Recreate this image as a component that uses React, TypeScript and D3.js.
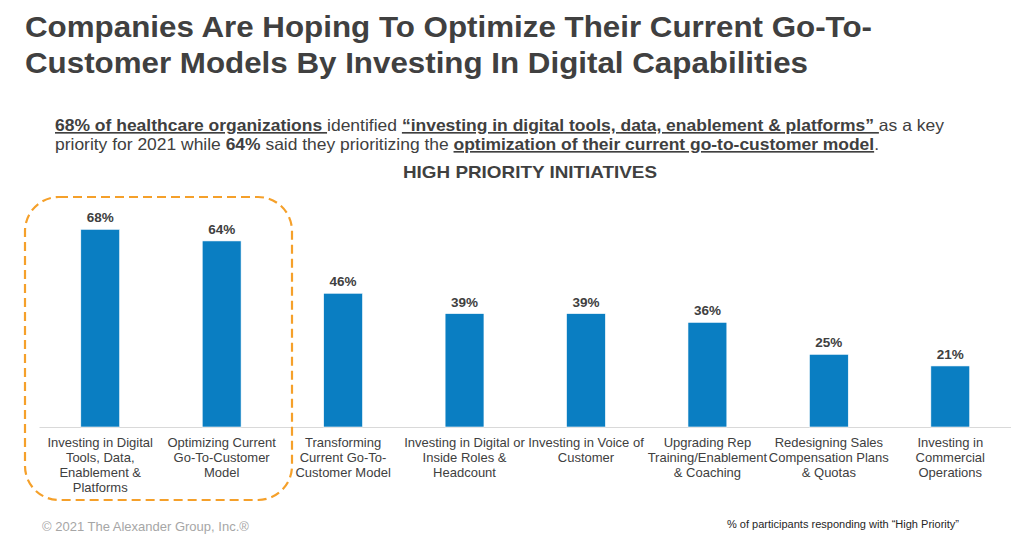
import React from "react";
import * as d3 from "d3";

const categories = [
  "Investing in Digital\nTools, Data,\nEnablement &\nPlatforms",
  "Optimizing Current\nGo-To-Customer\nModel",
  "Transforming\nCurrent Go-To-\nCustomer Model",
  "Investing in Digital or\nInside Roles &\nHeadcount",
  "Investing in Voice of\nCustomer",
  "Upgrading Rep\nTraining/Enablement\n& Coaching",
  "Redesigning Sales\nCompensation Plans\n& Quotas",
  "Investing in\nCommercial\nOperations",
];
const values = [68, 64, 46, 39, 39, 36, 25, 21];
const valueLabels = ["68%", "64%", "46%", "39%", "39%", "36%", "25%", "21%"];

const titleLines = [
  "Companies Are Hoping To Optimize Their Current Go-To-",
  "Customer Models By Investing In Digital Capabilities",
];

const W = 1024;
const H = 546;
const BASE = 427;
const TEXT = "#404040";
const BAR = "#0A7EC2";

export default function App() {
  const x = d3
    .scaleBand<string>()
    .domain(categories)
    .range([39.5, 1011])
    .paddingInner(0.68)
    .paddingOuter(0.34);
  const y = d3.scaleLinear().domain([0, 68]).range([BASE, 229.3]);
  const font = "'Liberation Sans', Arial, sans-serif";
  const ul = { textDecoration: "underline" } as React.CSSProperties;

  return (
    <svg
      width={W}
      height={H}
      style={{ position: "absolute", left: 0, top: 0, background: "#fff" }}
      fontFamily={font}
    >
      {titleLines.map((t, i) => (
        <text key={i} x={25} y={37 + i * 36} fontSize={30} fontWeight="bold" fill={TEXT}
          textLength={i === 0 ? 847 : 783} lengthAdjust="spacingAndGlyphs">
          {t}
        </text>
      ))}
      <text x={55} y={131} fontSize={16.5} fill={TEXT} textLength={889} lengthAdjust="spacingAndGlyphs">
        <tspan fontWeight="bold" style={ul}>68% of healthcare organizations </tspan>
        <tspan>identified </tspan>
        <tspan fontWeight="bold" style={ul}>“investing in digital tools, data, enablement &amp; platforms” </tspan>
        <tspan>as a key</tspan>
      </text>
      <text x={55} y={150} fontSize={16.5} fill={TEXT} textLength={824} lengthAdjust="spacingAndGlyphs">
        <tspan>priority for 2021 while </tspan>
        <tspan fontWeight="bold">64%</tspan>
        <tspan> said they prioritizing the </tspan>
        <tspan fontWeight="bold" style={ul}>optimization of their current go-to-customer model</tspan>
        <tspan>.</tspan>
      </text>
      <text x={530} y={178} fontSize={17} fontWeight="bold" fill={TEXT} textAnchor="middle"
        textLength={254} lengthAdjust="spacingAndGlyphs">
        HIGH PRIORITY INITIATIVES
      </text>

      <line x1={39.5} x2={1011} y1={BASE + 0.5} y2={BASE + 0.5} stroke="#d9d9d9" strokeWidth={1} />

      {categories.map((c, i) => {
        const bx = x(c)!;
        const cx = bx + x.bandwidth() / 2;
        return (
          <g key={c}>
            <rect x={bx} y={y(values[i])} width={x.bandwidth()} height={BASE - y(values[i])}
              fill={BAR} stroke="#ffffff" strokeWidth={0.6} />
            <text x={cx} y={y(values[i]) - 7} textAnchor="middle" fontSize={13.5} fontWeight="bold" fill={TEXT}>
              {valueLabels[i]}
            </text>
            {c.split("\n").map((ln, j) => (
              <text key={j} x={cx} y={447 + j * 15} textAnchor="middle" fontSize={13} fill={TEXT}>
                {ln}
              </text>
            ))}
          </g>
        );
      })}

      <rect x={25} y={197} width={267} height={303} rx={34} ry={34} fill="none"
        stroke="#F5A02A" strokeWidth={2.2} strokeDasharray="9 5" />

      <text x={42} y={531} fontSize={13} fill="#a6a6a6">© 2021 The Alexander Group, Inc.®</text>
      <text x={727} y={528} fontSize={10} fill="#262626" textLength={232} lengthAdjust="spacingAndGlyphs">
        % of participants responding with “High Priority”
      </text>
    </svg>
  );
}
